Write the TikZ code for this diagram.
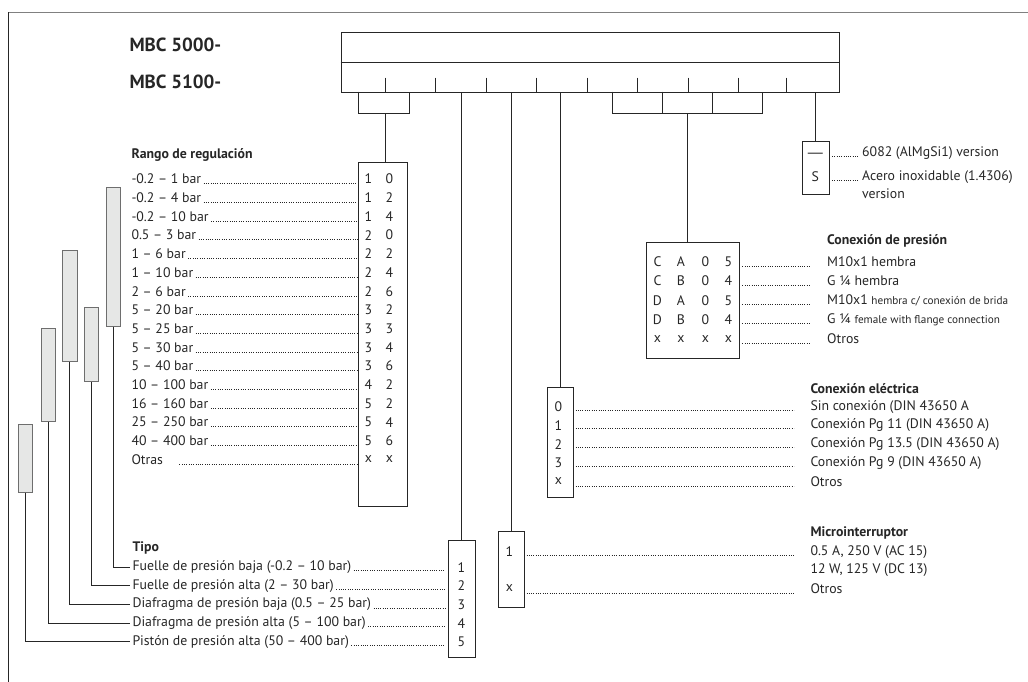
\documentclass[tikz,border=0pt]{standalone}
\usepackage{fontspec}
\setmainfont{PT Sans}
\newfontfamily\dashfont{Liberation Sans}
\usetikzlibrary{positioning}
\definecolor{ink}{HTML}{262626}
\definecolor{barfill}{HTML}{E6E7E6}
\definecolor{bargray}{HTML}{6E6E6E}
\newcommand\finetxt{\fontsize{11.2}{12}\selectfont}
\tikzset{
  codebox/.style={draw=ink, line width=1pt, anchor=north west, inner sep=0pt},
  rangebar/.style={draw=bargray, fill=barfill, line width=1pt, anchor=north west, inner sep=0pt},
  lbl/.style={anchor=west, inner sep=0pt, font=\fontsize{13.8}{15}\selectfont},
  ttl/.style={anchor=west, inner sep=0pt, font=\fontsize{13.8}{15}\selectfont\bfseries},
  dig/.style={inner sep=0pt, font=\fontsize{13.8}{15}\selectfont},
  leader/.style={line width=0.9pt, dash pattern=on 0.8pt off 1.5pt},
}
\begin{document}
\begin{tikzpicture}[x=1pt, y=-1pt, line width=1pt, color=ink]
\useasboundingbox (0,0) rectangle (1028,682);
% frame
\draw[gray, line width=1.3pt] (8.3,12.3) -- (1028,12.3);
\draw[line width=1.2pt] (8.3,12.3) -- (8.3,682);
% type code
\node[anchor=west, inner sep=0pt, font=\fontsize{19}{20}\selectfont\bfseries] (mbcA) at (129,45) {MBC 5000-};
\node[anchor=west, inner sep=0pt, font=\fontsize{19}{20}\selectfont\bfseries] (mbcB) at (129,82) {MBC 5100-};
\node[codebox, minimum width=498.6, minimum height=59.4] (head) at (340.7,32.3) {};
\draw (340.7,62.3) -- (839.3,62.3);
\foreach \x in {385,435.6,486.2,536.8,587.4,637.8,688.2,738.4,786}
  \draw (\x,77.7) -- (\x,91.7);
\draw (358.7,91.7) |- (409,113.3) -- (409,91.7);
\coordinate (rngtop) at (385,113.3);
\draw (612.3,91.7) |- (762,113.3) -- (762,91.7);
\draw (662.7,91.7) -- (662.7,113.3);
\draw (712.7,91.7) -- (712.7,113.3);
\coordinate (prstop) at (687.5,113.3);

% Rango de regulacion
\node[ttl] (rngttl) at (131,155) {Rango de regulación};
\node[codebox, minimum width=49.6, minimum height=343.7] (rbox) at (357.7,162.3) {};
\draw (rngtop) -- (rngtop |- rbox.north);
\foreach \lab/\a/\b [count=\i] in {-0.2 – 1 bar/1/0, -0.2 – 4 bar/1/2, -0.2 – 10 bar/1/4,
    0.5 – 3 bar/2/0, 1 – 6 bar/2/2, 1 – 10 bar/2/4, 2 – 6 bar/2/6, 5 – 20 bar/3/2,
    5 – 25 bar/3/3, 5 – 30 bar/3/4, 5 – 40 bar/3/6, 10 – 100 bar/4/2, 16 – 160 bar/5/2,
    25 – 250 bar/5/4, 40 – 400 bar/5/6, Otras\hspace*{14pt}/x/x}{
  \node[lbl] (rng\i) at (131,{179+18.7*(\i-1)}) {\lab};
  \node[dig] (rngA\i) at (368.3,{179+18.7*(\i-1)}) {\a};
  \node[dig] (rngB\i) at (389.3,{179+18.7*(\i-1)}) {\b};
  \draw[leader] ([xshift=2pt]rng\i.base east) -- (rng\i.base east -| rbox.west);
}

% range bars
\node[rangebar, minimum width=14.3, minimum height=139] (barA) at (106,186.7) {};
\node[rangebar, minimum width=14.3, minimum height=111] (barB) at (62.3,250) {};
\node[rangebar, minimum width=14.3, minimum height=74.6] (barC) at (84,306.7) {};
\node[rangebar, minimum width=14.3, minimum height=93] (barD) at (40.7,328) {};
\node[rangebar, minimum width=13.5, minimum height=67.4] (barE) at (18.3,424.3) {};

% Tipo
\node[ttl] (tipottl) at (132,547.7) {Tipo};
\node[codebox, minimum width=27.3, minimum height=117.3] (tbox) at (447.7,540) {};
\draw (head.south -| tbox.north) -- (tbox.north);
\foreach \lab/\n [count=\i] in {Fuelle de presión baja (-0.2 – 10 bar) /1,
    Fuelle de presión alta (2 – 30 bar)/2, Diafragma de presión baja (0.5 – 25 bar)/3,
    Diafragma de presión alta (5 – 100 bar)/4, Pistón de presión alta (50 – 400 bar)/5}{
  \node[lbl] (tipo\i) at (132,{567.3+18.6*(\i-1)}) {\lab};
  \node[dig] (tipoN\i) at (461.3,{567.3+18.6*(\i-1)}) {\n};
  \draw[leader] ([xshift=2pt]tipo\i.base east) -- ([xshift=-2.5pt]tipo\i.base east -| tbox.west);
}
\draw (barA.south) |- ([xshift=-2pt]tipo1.west);
\draw (barC.south) |- ([xshift=-2pt]tipo2.west);
\draw (barB.south) |- ([xshift=-2pt]tipo3.west);
\draw (barD.south) |- ([xshift=-2pt]tipo4.west);
\draw (barE.south) |- ([xshift=-2pt]tipo5.west);

% Material
\node[codebox, minimum width=27.3, minimum height=53.3] (mat) at (801.7,141) {};
\draw (head.south -| mat.north) -- (mat.north);
\node[dig, font=\dashfont\fontsize{15}{15}\selectfont] (matA) at (815.4,155) {—};
\node[dig] (matB) at (815.4,176.7) {S};
\node[lbl] (matdA) at (861.7,153.3) {6082 (AlMgSi1) version};
\node[lbl] (matdB) at (861.7,176.7) {Acero inoxidable (1.4306)};
\node[lbl] (matdC) at (861.7,193.8) {version};
\draw[leader] ([xshift=2pt]mat.east |- matdA.base) -- ([xshift=-3pt]matdA.base west);
\draw[leader] ([xshift=2pt]mat.east |- matdB.base) -- ([xshift=-3pt]matdB.base west);

% Conexion de presion
\node[ttl] (prsttl) at (826.7,240.7) {Conexión de presión};
\node[codebox, minimum width=93.6, minimum height=115.4] (pbox) at (645.7,242.3) {};
\draw (prstop) -- (prstop |- pbox.north);
\foreach \a/\b/\c/\d/\lab [count=\i] in {C/A/0/5/{M10x1 hembra}, C/B/0/4/{G ¼ hembra},
    D/A/0/5/{M10x1 {\finetxt hembra c/ conexión de brida}},
    D/B/0/4/{G ¼ {\finetxt female with flange connection}}, x/x/x/x/{Otros}}{
  \node[lbl] (prs\i) at (826.7,{261.7+19.3*(\i-1)}) {\lab};
  \node[dig] (prsA\i) at (657.5,{261.7+19.3*(\i-1)}) {\a};
  \node[dig] (prsB\i) at (681,{261.7+19.3*(\i-1)}) {\b};
  \node[dig] (prsC\i) at (705.3,{261.7+19.3*(\i-1)}) {\c};
  \node[dig] (prsD\i) at (728.5,{261.7+19.3*(\i-1)}) {\d};
  \draw[leader] ([xshift=2pt]pbox.east |- prs\i.base) -- ([xshift=-16pt]prs\i.base west);
}

% Conexion electrica
\node[ttl] (elcttl) at (810,388.3) {Conexión eléctrica};
\node[codebox, minimum width=26, minimum height=109.7] (ebox) at (546.5,387) {};
\draw (head.south -| ebox.north) -- (ebox.north);
\foreach \n/\lab [count=\i] in {0/{Sin conexión (DIN 43650 A}, 1/{Conexión Pg 11 (DIN 43650 A)},
    2/{Conexión Pg 13.5 (DIN 43650 A)}, 3/{Conexión Pg 9 (DIN 43650 A)}, x/{Otros}}{
  \node[lbl] (elc\i) at (810,{406.7+18.7*(\i-1)}) {\lab};
  \node[dig] (elcN\i) at (558.5,{406.7+18.7*(\i-1)}) {\n};
  \draw[leader] ([xshift=2pt]ebox.east |- elc\i.base) -- ([xshift=-16pt]elc\i.base west);
}

% Microinterruptor
\node[ttl] (micttl) at (810,532.7) {Microinterruptor};
\node[codebox, minimum width=26, minimum height=75.7] (mbox) at (497.5,531) {};
\draw (head.south -| mbox.north) -- (mbox.north);
\node[dig] (micA) at (509.5,551.7) {1};
\node[dig] (micB) at (509.5,588.3) {x};
\node[lbl] (micdA) at (810,551.7) {0.5 A, 250 V (AC 15)};
\node[lbl] (micdB) at (810,569.8) {12 W, 125 V (DC 13)};
\node[lbl] (micdC) at (810,588.3) {Otros};
\draw[leader] ([xshift=2pt]mbox.east |- micdA.base) -- ([xshift=-16pt]micdA.base west);
\draw[leader] ([xshift=2pt]mbox.east |- micdC.base) -- ([xshift=-16pt]micdC.base west);
\end{tikzpicture}
\end{document}
